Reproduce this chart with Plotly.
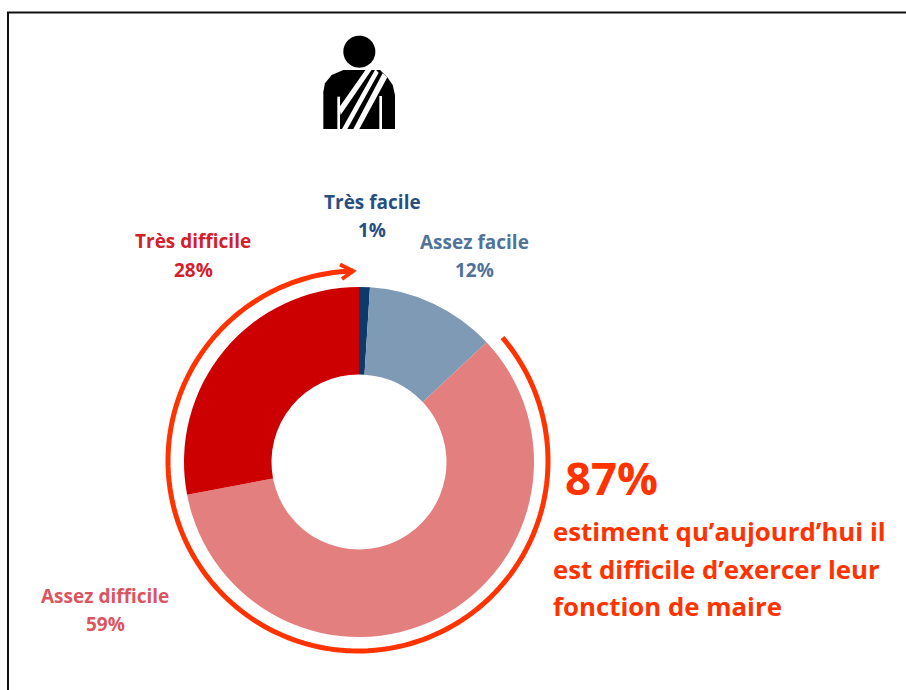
import math
import plotly.graph_objects as go

categories = ["Très facile", "Assez facile", "Assez difficile", "Très difficile"]
values = [1, 12, 59, 28]
colors = ["#0B3A6B", "#7F9AB5", "#E47F7F", "#CC0000"]
label_colors = ["#27507F", "#4F7399", "#DB5560", "#D3202A"]
callout_value = "87%"
callout_lines = ["estiment qu’aujourd’hui il", "est difficile d’exercer leur", "fonction de maire"]

W, H = 906, 690
CX, CY, R = 359, 462, 175
RED = "#FF3300"
FONT = "Open Sans"

def px(x):
    return x / W

def py(y):
    return 1 - y / H

def path(points, close=False):
    s = "M" + " L".join(f"{px(x):.5f},{py(y):.5f}" for x, y in points)
    return s + (" Z" if close else "")

shapes = []

def add_path(points, fill=None, line=None, width=0, close=True):
    shapes.append(dict(type="path", xref="paper", yref="paper", path=path(points, close),
                       fillcolor=fill if fill else "rgba(0,0,0,0)",
                       line=dict(color=line if line else "rgba(0,0,0,0)", width=width)))

# Frame (top and left edges only, running off the page)
add_path([(8, H), (8, 12.5), (W, 12.5)], line="#111111", width=2, close=False)

# Callout arc: clockwise round the ring, ending at the arrowhead
ARC_R = 190
ACX, ACY = 358, 461
arc_start = 49.5
arc_end = 358.5
arc = []
for i in range(241):
    a = math.radians(arc_start + (arc_end - arc_start) * i / 240)
    arc.append((ACX + ARC_R * math.sin(a), ACY - ARC_R * math.cos(a)))
add_path(arc, line=RED, width=5, close=False)
tip = arc[-1]
add_path([(340, 264.5), (tip[0], tip[1]), (342, 279)], line=RED, width=4, close=False)

# Icon in its own 3x coordinate grid
def ic(pts):
    return [(300 + x / 3, 20 + y / 3) for x, y in pts]

head = []
for i in range(60):
    a = 2 * math.pi * i / 60
    head.append((178 + 48 * math.cos(a), 95 + 48 * math.sin(a)))
add_path(ic(head), fill="#000000")
body = [(70, 327), (70, 215), (75, 190), (95, 165), (130, 150), (205, 150), (240, 150), (262, 172), (278, 195), (285, 225), (285, 327)]
add_path(ic(body), fill="#000000")
for band in [
    [(112, 230), (120, 230), (120, 327), (112, 327)],
    [(238, 228), (246, 228), (246, 327), (238, 327)],
    [(198, 148), (216, 148), (122, 285), (118, 262)],
    [(226, 148), (236, 158), (142, 327), (126, 327)],
    [(248, 160), (262, 172), (178, 327), (160, 327)],
]:
    add_path(ic(band), fill="#FFFFFF")

annotations = []

def text(s, x, y, size, color, anchor="center"):
    annotations.append(dict(text=f"<b>{s}</b>", xref="paper", yref="paper", x=px(x), y=py(y),
                            xanchor=anchor, yanchor="middle", showarrow=False,
                            font=dict(family=FONT, size=size, color=color)))

label_pos = [(372, 202, 230), (474, 242, 270), (105, 596, 624), (193, 241, 270)]
for cat, val, col, (x, y1, y2) in zip(categories, values, label_colors, label_pos):
    text(cat, x, y1, 19, col)
    text(f"{val}%", x, y2, 19, col)

text(callout_value, 563, 477, 45.5, RED, "left")
for line, y in zip(callout_lines, [531, 569, 606]):
    text(line, 551, y, 25.8, RED, "left")

fig = go.Figure(go.Pie(
    labels=categories, values=values, sort=False, direction="clockwise", rotation=0,
    hole=0.5, textinfo="none", hoverinfo="label+percent",
    marker=dict(colors=colors, line=dict(width=0)),
    domain=dict(x=[px(CX - R), px(CX + R)], y=[py(CY + R), py(CY - R)]),
))
fig.update_layout(width=W, height=H, margin=dict(l=0, r=0, t=0, b=0), showlegend=False,
                  paper_bgcolor="white", shapes=shapes, annotations=annotations)
fig.write_html("out.html", config=dict(displayModeBar=False),
               post_script="document.body.style.margin='0';document.documentElement.style.overflow='hidden';")
